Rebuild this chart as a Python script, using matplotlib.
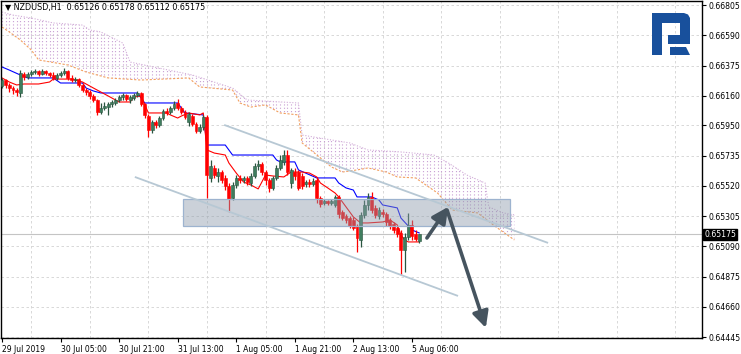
import numpy as np
import matplotlib
matplotlib.use("Agg")
import matplotlib.pyplot as plt
from matplotlib.patches import Rectangle, Polygon
from matplotlib.collections import LineCollection

# ---------------- data (prices x 1e5) ----------------
opens = [66230,66272,66237,66215,66201,66180,66315,66294,66315,66329,66336,66315,66336,66322,66308,66287,66308,66322,66336,66287,
         66272,66279,66237,66201,66187,66159,66130,66045,66073,66080,66102,66109,66130,66151,66166,66130,66144,66166,66180,66102,
         66016,65917,65974,65953,66002,66052,66045,66073,66109,66073,66045,65974,66016,65960,65910,65938,66009,65576,65647,65590,
         65618,65576,65519,65434,65526,65576,65562,65576,65540,65590,65661,65675,65618,65562,65505,65576,65647,65690,65739,65540,
         65618,65618,65590,65533,65547,65533,65562,65434,65398,65412,65398,65384,65441,65334,65306,65291,65277,65235,65135,65313,
         65384,65441,65363,65306,65334,65320,65277,65249,65220,65185,65064,65156,65242,65178,65126]
highs = [66287,66279,66251,66230,66215,66343,66329,66329,66343,66350,66343,66350,66343,66329,66329,66322,66336,66358,66343,66308,
         66294,66287,66251,66215,66201,66173,66137,66109,66116,66116,66130,66144,66166,66180,66173,66166,66180,66194,66187,66109,
         66031,65988,65988,66016,66066,66073,66088,66123,66137,66088,66059,66045,66031,65974,65960,66024,66024,65704,65668,65647,
         65633,65597,65540,65547,65597,65597,65590,65590,65611,65682,65704,65690,65633,65576,65590,65668,65739,65775,65775,65647,
         65647,65633,65611,65562,65569,65576,65583,65448,65426,65419,65426,65455,65455,65348,65320,65306,65299,65249,65334,65419,
         65469,65476,65384,65370,65355,65334,65291,65263,65235,65206,65185,65327,65277,65206,65178]
lows = [66215,66215,66187,66173,66159,66151,66272,66279,66301,66315,66301,66308,66308,66294,66272,66272,66294,66308,66272,66258,
        66258,66223,66187,66166,66137,66116,66024,66031,66059,66024,66080,66095,66116,66130,66123,66109,66130,66151,66088,66002,
        65867,65896,65931,65938,65988,66024,66031,66059,66059,66031,65995,65945,65945,65896,65896,65917,65434,65547,65576,65547,
        65540,65490,65334,65419,65505,65540,65540,65526,65519,65576,65633,65597,65526,65476,65490,65562,65633,65668,65597,65505,
        65562,65490,65498,65512,65512,65519,65398,65370,65384,65384,65384,65370,65291,65277,65256,65220,65206,65050,65085,65291,
        65348,65327,65291,65284,65299,65235,65213,65185,65156,64886,64908,65135,65135,65128,65112]
closes = [66272,66237,66215,66201,66187,66322,66294,66315,66329,66336,66315,66336,66322,66308,66287,66308,66322,66336,66287,66272,
          66279,66237,66201,66187,66159,66130,66045,66073,66088,66102,66116,66130,66151,66166,66137,66151,66166,66180,66102,66024,
          65917,65974,65953,66002,66052,66038,66073,66102,66073,66045,66009,66031,65960,65910,65938,66009,65597,65661,65597,65618,
          65562,65519,65426,65526,65576,65562,65576,65547,65590,65661,65675,65618,65562,65505,65576,65647,65704,65739,65618,65633,
          65590,65505,65519,65547,65533,65554,65434,65391,65412,65398,65412,65441,65320,65291,65277,65235,65220,65149,65313,65384,
          65441,65348,65313,65348,65320,65263,65235,65206,65178,65064,65156,65242,65163,65142,65175]

# Ichimoku lines: (bar index, price x 1e5)
kijun_bar = [0,2,5,7,14,16,22,23,25,27,37,39,48,49,50,55,56,61,63,74,75,76,80,81,86,91,92,94,96,97,101,103,104,108,109,112,114]
kijun_val = [66365,66343,66308,66287,66287,66251,66251,66215,66194,66180,66180,66109,66109,66073,66038,66024,65810,65810,65739,65739,
             65704,65690,65690,65633,65576,65576,65540,65505,65490,65441,65441,65419,65384,65363,65291,65206,65185]
tenkan_bar = [0,2,4,6,10,13,14,19,22,25,27,29,32,35,36,38,40,45,46,48,49,51,54,55,56,58,61,62,64,66,68,70,71,72,74,77,79,82,84,86,
              87,89,91,92,94,96,98,100,104,106,108,109,110,111,114]
tenkan_val = [66287,66258,66237,66244,66244,66258,66279,66279,66258,66215,66187,66159,66116,66116,66151,66159,66038,66038,66024,66002,
              66016,66038,66024,66038,65775,65753,65739,65682,65611,65547,65526,65498,65547,65597,65590,65583,65618,65618,65611,65583,
              65540,65505,65469,65441,65370,65299,65256,65256,65263,65277,65242,65171,65135,65121,65121]
spanB_bar = [0,3,8,14,22,24,27,33,35,52,63,67,81,82,90,95,100,109,118,122,127,132,133,137,140]
spanB_val = [66756,66734,66713,66678,66663,66628,66614,66535,66400,66308,66215,66130,66109,65881,65846,65825,65775,65761,65739,65682,
             65597,65540,65370,65327,65313]
spanA_bar = [0,2,5,8,10,18,23,29,38,51,54,63,65,68,72,76,81,82,90,93,97,100,105,108,113,119,123,130,135,140]
spanA_val = [66649,66614,66557,66486,66415,66379,66329,66287,66272,66287,66223,66201,66109,66080,66095,66038,66024,65825,65654,65618,
             65633,65647,65618,65583,65576,65469,65348,65327,65227,65135]

yticks = [0.66805,0.66590,0.66375,0.66160,0.65950,0.65735,0.65520,0.65305,0.65090,0.64875,0.64660,0.64445]
xtick_bars = [0,16,32,48,64,80,96,112]
xtick_labels = ["29 Jul 2019","30 Jul 05:00","30 Jul 21:00","31 Jul 13:00","1 Aug 05:00","1 Aug 21:00","2 Aug 13:00","5 Aug 06:00"]
last_price = 0.65175
title = "\u25bc NZDUSD,H1  0.65126 0.65178 0.65112 0.65175"

# annotations (bar index, price)
box = (49.5, 138.8, 0.65235, 0.65426)
chan_up = ((60.7, 0.65953), (149.2, 0.65114))
chan_dn = ((36.3, 0.65583), (124.6, 0.64737))
arrow1 = ((116.1, 0.65149), (121.9, 0.65370))
arrow2 = ((121.6, 0.65348), (132.2, 0.64510))

sc = 1e-5
o = np.array(opens) * sc; h = np.array(highs) * sc
l = np.array(lows) * sc; c = np.array(closes) * sc
idx = np.arange(len(o))

# ---------------- figure ----------------
W, H = 741, 354
plt.rcParams['font.family'] = ['DejaVu Sans']
fig = plt.figure(figsize=(W / 100, H / 100), dpi=100)
ax = fig.add_axes([1 / W, 16 / H, 701 / W, 337 / H])
ax.set_xlim(-0.27, 191.26)
ax.set_ylim(0.64438, 0.66834)

# grid
for yt in yticks:
    ax.axhline(yt, color='#d2d2d2', lw=0.6, ls=(0, (3, 3)), zorder=0)
for xv in np.arange(8, 192, 16):
    ax.axvline(xv, color='#d2d2d2', lw=0.6, ls=(0, (3, 3)), zorder=0)

# cloud
poly_pts = list(zip(spanB_bar, np.array(spanB_val) * sc)) + list(zip(spanA_bar[::-1], (np.array(spanA_val) * sc)[::-1]))
cloud = Polygon(poly_pts, closed=True, facecolor='none', edgecolor='none')
ax.add_patch(cloud)
segs = [[(i, 0.64), (i, 0.67)] for i in range(0, 141)]
lc = LineCollection(segs, colors='#c89ed3', linewidths=0.8, linestyles=[(0, (1, 2))], zorder=1)
lc.set_clip_path(cloud)
ax.add_collection(lc)
ax.plot(spanB_bar, np.array(spanB_val) * sc, color='#d3afd9', lw=0.8, ls=(0, (1, 1.5)), zorder=1.2)
ax.plot(spanA_bar, np.array(spanA_val) * sc, color='#f2a060', lw=0.8, ls=(0, (2, 1.5)), zorder=1.2)

# current price line
ax.axhline(last_price, color='#c4c4c4', lw=0.8, zorder=1.5)

# tenkan / kijun
ax.plot(kijun_bar, np.array(kijun_val) * sc, color='#0000ff', lw=0.8, zorder=2)
ax.plot(tenkan_bar, np.array(tenkan_val) * sc, color='#ff0000', lw=0.8, zorder=2)

# candles
bull = c >= o
bull_col, bull_edge, bear_col = '#3f7d5e', '#2a5540', '#ff0000'
ax.vlines(idx[bull], l[bull], h[bull], color=bull_edge, lw=0.9, zorder=3)
ax.vlines(idx[~bull], l[~bull], h[~bull], color=bear_col, lw=0.9, zorder=3)
ax.bar(idx[bull], (c - o)[bull], bottom=o[bull], width=0.8, color=bull_col, edgecolor=bull_edge, lw=0.4, zorder=3.1)
ax.bar(idx[~bull], (c - o)[~bull], bottom=o[~bull], width=0.8, color=bear_col, edgecolor=bear_col, lw=0.4, zorder=3.1)

# box
bx0, bx1, by0, by1 = box
ax.add_patch(Rectangle((bx0, by0), bx1 - bx0, by1 - by0, facecolor=(0.553, 0.608, 0.671, 0.45),
                       edgecolor='#9db3cf', lw=0.9, zorder=4))

# channel lines
for (p0, p1) in (chan_up, chan_dn):
    ax.plot([p0[0], p1[0]], [p0[1], p1[1]], color='#b7c8d4', lw=1.3, zorder=5, solid_capstyle='butt')

# arrows
for (s, t) in (arrow1, arrow2):
    ax.annotate('', xy=t, xytext=s,
                arrowprops=dict(arrowstyle='-|>', lw=2.6, color='#46545f', shrinkA=0, shrinkB=0,
                                mutation_scale=24), zorder=6)

# axes styling
for sp in ax.spines.values():
    sp.set_color('black'); sp.set_linewidth(1.0)
ax.yaxis.tick_right()
ax.set_yticks(yticks)
ax.set_yticklabels(["%.5f" % v for v in yticks])
ax.tick_params(axis='y', direction='out', length=3, width=0.8, labelsize=5.6, pad=2, colors='black')
ax.set_xticks(xtick_bars)
ax.set_xticklabels(xtick_labels, ha='left')
ax.tick_params(axis='x', direction='out', length=3, width=0.8, labelsize=5.5, pad=2, colors='black')

# last price tag
ax.text(1.003, last_price, "%.5f" % last_price, transform=ax.get_yaxis_transform(), fontsize=5.6,
        color='white', va='center', ha='left',
        bbox=dict(boxstyle='square,pad=0.15', facecolor='black', edgecolor='black'), zorder=10, clip_on=False)

# title
ax.text(0.006, 0.993, title, transform=ax.transAxes, fontsize=5.8, va='top', ha='left', zorder=10)

# logo
def fpx(pts):
    return [(x / W, 1 - y / H) for x, y in pts]
logo_col = '#18509c'
shapes = [
    [(652, 13), (684, 13), (688, 14.5), (690, 18), (690, 44), (668, 44), (668, 35), (680, 35), (680, 23), (662, 23), (662, 55), (652, 55)],
    [(670, 47), (686, 47), (690, 55), (670, 55)],
]
for sh in shapes:
    fig.add_artist(Polygon(fpx(sh), closed=True, facecolor=logo_col, edgecolor='none', transform=fig.transFigure))

fig.savefig("out.png", dpi=100)
